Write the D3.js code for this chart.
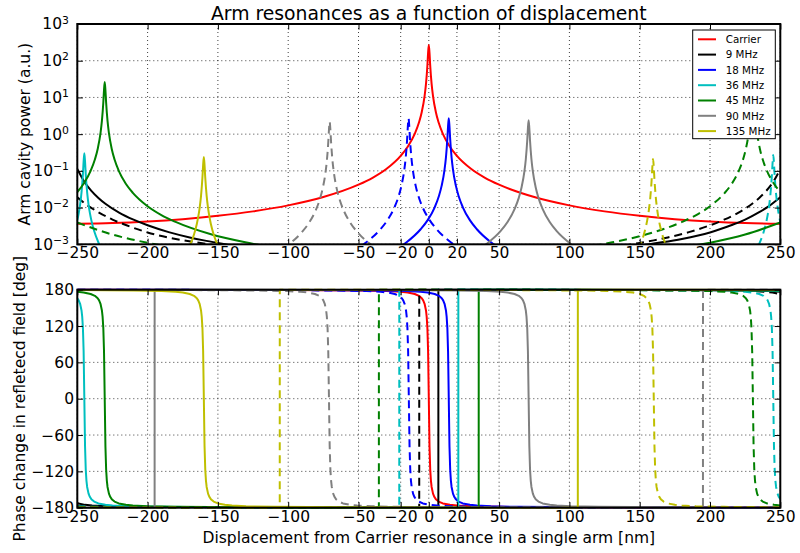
<!DOCTYPE html>
<html><head><meta charset="utf-8">
<script src="https://cdn.jsdelivr.net/npm/d3@7"></script>
<style>
body{margin:0;background:#fff}
svg{display:block}
text{font-family:"DejaVu Sans",sans-serif;fill:#000}
</style>
</head><body>
<svg id="c" width="800" height="553"></svg>
<script>
// ---------------- data ----------------
const xTicks = [-250,-200,-150,-100,-50,-20,0,20,50,100,150,200,250];
const powTicks = [1e-3,1e-2,1e-1,1,10,100,1000];
const powTickExps = ["-3","-2","-1","0","1","2","3"];
const phaseTicks = [-180,-120,-60,0,60,120,180];
const legendLabels = ["Carrier","9 MHz","18 MHz","36 MHz","45 MHz","90 MHz","135 MHz"];

// Arm cavity power (a.u.) – segments of [displacement nm, power]
const powCarrier = [[[-250,0.0036],[-225,0.00378],[-200,0.00417],[-175,0.00484],[-150,0.00596],[-125,0.00788],[-100,0.01148],[-75,0.0194],[-50,0.0421],[-40,0.0647],[-30,0.114],[-20,0.256],[-15,0.455],[-10,1.02],[-7,2.07],[-5,4.03],[-3,10.9],[-2,23.4],[-1,74],[-0.5,163],[0,270],[0.5,163],[1,74],[2,23.4],[3,10.9],[5,4.03],[7,2.07],[10,1.02],[15,0.455],[20,0.256],[30,0.114],[40,0.0647],[50,0.0421],[75,0.0194],[100,0.01148],[125,0.00788],[150,0.00596],[175,0.00484],[200,0.00417],[225,0.00378],[250,0.0036]]];
const pow9Solid = [[[-250,0.113],[-245,0.0505],[-240,0.0285],[-235,0.0183],[-230,0.0127],[-220,0.00719],[-210,0.00468],[-200,0.00329],[-185,0.00215],[-170,0.00154],[-160,0.00128],[-150,0.00109],[-135,0.000875],[-120,0.00073]],
  [[120,0.00065],[140,0.0008],[160,0.00105],[180,0.0014],[200,0.0021],[215,0.0033],[225,0.0047],[235,0.0075],[242,0.011],[250,0.019]]];
const pow9Dashed = [[[-250,0.019],[-242,0.011],[-235,0.0075],[-225,0.0047],[-215,0.0033],[-200,0.0021],[-180,0.0014],[-160,0.00105],[-140,0.0008],[-120,0.00065]],
  [[120,0.00073],[135,0.000875],[150,0.00109],[160,0.00128],[170,0.00154],[185,0.00215],[200,0.00329],[210,0.00468],[220,0.00719],[230,0.0127],[235,0.0183],[240,0.0285],[245,0.0505],[250,0.113]]];
const pow18Solid = [[[-35.8,0.00042],[-25.8,0.000647],[-15.8,0.00114],[-5.8,0.00257],[-0.8,0.00455],[4.2,0.0102],[7.2,0.0207],[9.2,0.0403],[11.2,0.1088],[12.2,0.2336],[13.2,0.742],[13.7,1.63],[14.2,2.7],[14.7,1.63],[15.2,0.742],[16.2,0.2336],[17.2,0.1088],[19.2,0.0403],[21.2,0.0207],[24.2,0.0102],[29.2,0.00455],[34.2,0.00257],[44.2,0.00114],[54.2,0.000647],[64.2,0.00042]]];
const pow18Dashed = [[[-64.4,0.00042],[-54.4,0.000647],[-44.4,0.00114],[-34.4,0.00257],[-29.4,0.00455],[-24.4,0.0102],[-21.4,0.0207],[-19.4,0.0403],[-17.4,0.1088],[-16.4,0.2336],[-15.4,0.742],[-14.9,1.63],[-14.4,2.7],[-13.9,1.63],[-13.4,0.742],[-12.4,0.2336],[-11.4,0.1088],[-9.4,0.0403],[-7.4,0.0207],[-4.4,0.0102],[0.6,0.00455],[5.6,0.00257],[15.6,0.00114],[25.6,0.000647],[35.6,0.00042]]];
const pow36Solid = [[[-250,0.00448],[-249,0.00694],[-248,0.0121],[-247,0.026],[-246,0.0824],[-245.5,0.1807],[-245,0.3],[-244.5,0.1807],[-244,0.0824],[-243,0.026],[-242,0.0121],[-241,0.00694],[-240,0.00448],[-238,0.0023],[-235,0.00113],[-230,0.000505]]];
const pow36Dashed = [[[230,0.000455],[235,0.00102],[238,0.00207],[240,0.00403],[241,0.00625],[242,0.0109],[243,0.0234],[244,0.0742],[244.5,0.1626],[245,0.27],[245.5,0.1626],[246,0.0742],[247,0.0234],[248,0.0109],[249,0.00625],[250,0.00403]]];
const pow45Solid = [[[-250,0.0265],[-245.5,0.0446],[-240.5,0.1001],[-237.5,0.203],[-235.5,0.396],[-233.5,1.068],[-232.5,2.29],[-231.5,7.28],[-231,15.95],[-230.5,26.5],[-230,15.95],[-229.5,7.28],[-228.5,2.29],[-227.5,1.068],[-225.5,0.396],[-223.5,0.203],[-220.5,0.1001],[-215.5,0.0446],[-210.5,0.0252],[-200.5,0.01124],[-190.5,0.00635],[-180.5,0.00413],[-155.5,0.0019],[-130.5,0.00113],[-105.5,0.000773],[-80.5,0.000585]],
  [[150,0.000577],[175,0.00076],[200,0.0011],[225,0.00184],[250,0.00391]]];
const pow45Dashed = [[[-250,0.00391],[-225,0.00184],[-200,0.0011],[-175,0.00076],[-150,0.000577]],
  [[80.5,0.000585],[105.5,0.000773],[130.5,0.00113],[155.5,0.0019],[180.5,0.00413],[190.5,0.00635],[200.5,0.01124],[210.5,0.0252],[215.5,0.0446],[220.5,0.1001],[223.5,0.203],[225.5,0.396],[227.5,1.068],[228.5,2.29],[229.5,7.28],[230,15.95],[230.5,26.5],[231,15.95],[231.5,7.28],[232.5,2.29],[233.5,1.068],[235.5,0.396],[237.5,0.203],[240.5,0.1001],[245.5,0.0446],[250,0.0265]]];
const pow90Solid = [[[21,0.000374],[31,0.000575],[41,0.00102],[51,0.00228],[56,0.00404],[61,0.00907],[64,0.0184],[66,0.0358],[68,0.0967],[69,0.2076],[70,0.659],[70.5,1.445],[71,2.4],[71.5,1.445],[72,0.659],[73,0.2076],[74,0.0967],[76,0.0358],[78,0.0184],[81,0.00907],[86,0.00404],[91,0.00228],[101,0.00102],[111,0.000575],[121,0.000374]]];
const pow90Dashed = [[[-120.5,0.000343],[-110.5,0.000527],[-100.5,0.000933],[-90.5,0.00209],[-85.5,0.0037],[-80.5,0.00831],[-77.5,0.0169],[-75.5,0.0328],[-73.5,0.0887],[-72.5,0.190],[-71.5,0.604],[-71,1.324],[-70.5,2.2],[-70,1.324],[-69.5,0.604],[-68.5,0.190],[-67.5,0.0887],[-65.5,0.0328],[-63.5,0.0169],[-60.5,0.00831],[-55.5,0.0037],[-50.5,0.00209],[-40.5,0.000933],[-30.5,0.000527],[-20.5,0.000343]]];
const pow135Solid = [[[-175,0.000404],[-170,0.000907],[-167,0.00184],[-165,0.00358],[-164,0.00556],[-163,0.00967],[-162,0.02076],[-161,0.0659],[-160.5,0.1446],[-160,0.24],[-159.5,0.1446],[-159,0.0659],[-158,0.02076],[-157,0.00967],[-156,0.00556],[-155,0.00358],[-153,0.00184],[-150,0.000907],[-145,0.000404]]];
const pow135Dashed = [[[144.5,0.000354],[149.5,0.000793],[152.5,0.00161],[154.5,0.00314],[155.5,0.00486],[156.5,0.00846],[157.5,0.01817],[158.5,0.0577],[159,0.1265],[159.5,0.21],[160,0.1265],[160.5,0.0577],[161.5,0.01817],[162.5,0.00846],[163.5,0.00486],[164.5,0.00314],[166.5,0.00161],[169.5,0.000793],[174.5,0.000354]]];

// Phase change in reflected field (deg) – [displacement nm, phase]
const phCarrier = [[-250,179.9],[-150,179.7],[-100,179.4],[-50,178.6],[-30,177.7],[-20,176.5],[-15,175.3],[-10,172.9],[-7,169.9],[-5,165.9],[-4,162.4],[-3,156.7],[-2,145.7],[-1.5,135.2],[-1,116.6],[-0.5,78],[0,0],[0.5,-78],[1,-116.6],[1.5,-135.2],[2,-145.7],[3,-156.7],[4,-162.4],[5,-165.9],[7,-169.9],[10,-172.9],[15,-175.3],[20,-176.5],[30,-177.7],[50,-178.6],[100,-179.4],[150,-179.7],[250,-179.9]];
const ph9Solid = [[-250,-172.6],[-244.5,-175.3],[-239.5,-176.5],[-229.5,-177.7],[-209.5,-178.6],[-159.5,-179.4],[-109.5,-179.7],[-59.5,-179.9],[6.79,-180],[6.81,180],[56.5,179.9],[122.5,179.7],[172.5,179.4],[222.5,178.6],[242.5,177.7],[250,176.8]];
const ph9Dashed = [[-250,-176.8],[-242.5,-177.7],[-222.5,-178.6],[-172.5,-179.4],[-122.5,-179.7],[-56.5,-179.9],[-6.81,-180],[-6.79,180],[59.5,179.9],[109.5,179.7],[159.5,179.4],[209.5,178.6],[229.5,177.7],[239.5,176.5],[244.5,175.3],[250,172.6]];
const ph18Solid = [[-250,180],[-185.8,179.9],[-135.8,179.7],[-85.8,179.4],[-35.8,178.6],[-15.8,177.7],[-5.8,176.5],[-0.8,175.3],[4.2,172.9],[7.2,169.9],[9.2,165.9],[10.2,162.4],[11.2,156.7],[12.2,145.7],[12.7,135.2],[13.2,116.6],[13.7,78],[14.2,0],[14.7,-78],[15.2,-116.6],[15.7,-135.2],[16.2,-145.7],[17.2,-156.7],[18.2,-162.4],[19.2,-165.9],[21.2,-169.9],[24.2,-172.9],[29.2,-175.3],[34.2,-176.5],[44.2,-177.7],[64.2,-178.6],[114.2,-179.4],[164.2,-179.7],[214.2,-179.9],[250,-180]];
const ph18Dashed = [[-250,180],[-214.2,179.9],[-164.2,179.7],[-114.2,179.4],[-64.2,178.6],[-44.2,177.7],[-34.2,176.5],[-29.2,175.3],[-24.2,172.9],[-21.2,169.9],[-19.2,165.9],[-18.2,162.4],[-17.2,156.7],[-16.2,145.7],[-15.7,135.2],[-15.2,116.6],[-14.7,78],[-14.2,0],[-13.7,-78],[-13.2,-116.6],[-12.7,-135.2],[-12.2,-145.7],[-11.2,-156.7],[-10.2,-162.4],[-9.2,-165.9],[-7.2,-169.9],[-4.2,-172.9],[0.8,-175.3],[5.8,-176.5],[15.8,-177.7],[35.8,-178.6],[85.8,-179.4],[135.8,-179.7],[185.8,-179.9],[250,-180]];
const ph36Solid = [[-250,165.9],[-249,162.4],[-248,156.7],[-247,145.7],[-246.5,135.2],[-246,116.6],[-245.5,78],[-245,0],[-244.5,-78],[-244,-116.6],[-243.5,-135.2],[-243,-145.7],[-242,-156.7],[-241,-162.4],[-240,-165.9],[-238,-169.9],[-235,-172.9],[-230,-175.3],[-225,-176.5],[-215,-177.7],[-195,-178.6],[-145,-179.4],[-95,-179.7],[-45,-179.9],[20.99,-180],[21.01,180],[86,179.9],[136,179.7],[186,179.4],[236,178.6],[250,177.7]];
const ph36Dashed = [[-250,-177.7],[-236,-178.6],[-186,-179.4],[-136,-179.7],[-86,-179.9],[-21.01,-180],[-20.99,180],[45,179.9],[95,179.7],[145,179.4],[195,178.6],[215,177.7],[225,176.5],[230,175.3],[235,172.9],[238,169.9],[240,165.9],[241,162.4],[242,156.7],[243,145.7],[243.5,135.2],[244,116.6],[244.5,78],[245,0],[245.5,-78],[246,-116.6],[246.5,-135.2],[247,-145.7],[248,-156.7],[249,-162.4],[250,-165.9]];
const ph45Solid = [[-250,176.5],[-245.5,175.3],[-240.5,172.9],[-237.5,169.9],[-235.5,165.9],[-234.5,162.4],[-233.5,156.7],[-232.5,145.7],[-232,135.2],[-231.5,116.6],[-231,78],[-230.5,0],[-230,-78],[-229.5,-116.6],[-229,-135.2],[-228.5,-145.7],[-227.5,-156.7],[-226.5,-162.4],[-225.5,-165.9],[-223.5,-169.9],[-220.5,-172.9],[-215.5,-175.3],[-210.5,-176.5],[-200.5,-177.7],[-180.5,-178.6],[-130.5,-179.4],[-80.5,-179.7],[-30.5,-179.9],[35.49,-180],[35.51,180],[101.5,179.9],[151.5,179.7],[201.5,179.4],[250,178.7]];
const ph45Dashed = [[-250,-178.7],[-201.5,-179.4],[-151.5,-179.7],[-101.5,-179.9],[-35.51,-180],[-35.49,180],[30.5,179.9],[80.5,179.7],[130.5,179.4],[180.5,178.6],[200.5,177.7],[210.5,176.5],[215.5,175.3],[220.5,172.9],[223.5,169.9],[225.5,165.9],[226.5,162.4],[227.5,156.7],[228.5,145.7],[229,135.2],[229.5,116.6],[230,78],[230.5,0],[231,-78],[231.5,-116.6],[232,-135.2],[232.5,-145.7],[233.5,-156.7],[234.5,-162.4],[235.5,-165.9],[237.5,-169.9],[240.5,-172.9],[245.5,-175.3],[250,-176.5]];
const ph90Solid = [[-250,-179.9],[-195.01,-180],[-194.99,180],[-129,179.9],[-79,179.7],[-29,179.4],[21,178.6],[41,177.7],[51,176.5],[56,175.3],[61,172.9],[64,169.9],[66,165.9],[67,162.4],[68,156.7],[69,145.7],[69.5,135.2],[70,116.6],[70.5,78],[71,0],[71.5,-78],[72,-116.6],[72.5,-135.2],[73,-145.7],[74,-156.7],[75,-162.4],[76,-165.9],[78,-169.9],[81,-172.9],[86,-175.3],[91,-176.5],[101,-177.7],[121,-178.6],[171,-179.4],[221,-179.7],[250,-179.8]];
const ph90Dashed = [[-250,179.8],[-221,179.7],[-171,179.4],[-121,178.6],[-101,177.7],[-91,176.5],[-86,175.3],[-81,172.9],[-78,169.9],[-76,165.9],[-75,162.4],[-74,156.7],[-73,145.7],[-72.5,135.2],[-72,116.6],[-71.5,78],[-71,0],[-70.5,-78],[-70,-116.6],[-69.5,-135.2],[-69,-145.7],[-68,-156.7],[-67,-162.4],[-66,-165.9],[-64,-169.9],[-61,-172.9],[-56,-175.3],[-51,-176.5],[-41,-177.7],[-21,-178.6],[29,-179.4],[79,-179.7],[129,-179.9],[194.99,-180],[195.01,180],[250,179.9]];
const ph135Solid = [[-250,179.3],[-210,178.6],[-190,177.7],[-180,176.5],[-175,175.3],[-170,172.9],[-167,169.9],[-165,165.9],[-164,162.4],[-163,156.7],[-162,145.7],[-161.5,135.2],[-161,116.6],[-160.5,78],[-160,0],[-159.5,-78],[-159,-116.6],[-158.5,-135.2],[-158,-145.7],[-157,-156.7],[-156,-162.4],[-155,-165.9],[-153,-169.9],[-150,-172.9],[-145,-175.3],[-140,-176.5],[-130,-177.7],[-110,-178.6],[-60,-179.4],[-10,-179.7],[40,-179.9],[105.99,-180],[106.01,180],[172,179.9],[250,179.6]];
const ph135Dashed = [[-250,-179.6],[-172,-179.9],[-106.01,-180],[-105.99,180],[-40,179.9],[10,179.7],[60,179.4],[110,178.6],[130,177.7],[140,176.5],[145,175.3],[150,172.9],[153,169.9],[155,165.9],[156,162.4],[157,156.7],[158,145.7],[158.5,135.2],[159,116.6],[159.5,78],[160,0],[160.5,-78],[161,-116.6],[161.5,-135.2],[162,-145.7],[163,-156.7],[164,-162.4],[165,-165.9],[167,-169.9],[170,-172.9],[175,-175.3],[180,-176.5],[190,-177.7],[210,-178.6],[250,-179.3]];

// ---------------- styles ----------------
const seriesColors = ["#ff0000","#000000","#0000ff","#00bfbf","#008000","#808080","#bfbf00"];
const series = [
  {c:0, dash:false, pow:powCarrier,  ph:phCarrier},
  {c:1, dash:false, pow:pow9Solid,   ph:ph9Solid},
  {c:1, dash:true,  pow:pow9Dashed,  ph:ph9Dashed},
  {c:2, dash:false, pow:pow18Solid,  ph:ph18Solid},
  {c:2, dash:true,  pow:pow18Dashed, ph:ph18Dashed},
  {c:3, dash:false, pow:pow36Solid,  ph:ph36Solid},
  {c:3, dash:true,  pow:pow36Dashed, ph:ph36Dashed},
  {c:4, dash:false, pow:pow45Solid,  ph:ph45Solid},
  {c:4, dash:true,  pow:pow45Dashed, ph:ph45Dashed},
  {c:5, dash:false, pow:pow90Solid,  ph:ph90Solid},
  {c:5, dash:true,  pow:pow90Dashed, ph:ph90Dashed},
  {c:6, dash:false, pow:pow135Solid, ph:ph135Solid},
  {c:6, dash:true,  pow:pow135Dashed,ph:ph135Dashed}
];

const L = 77.3, R = 780.3;
const T1 = 24, B1 = 244.3, T2 = 289.7, B2 = 507.7;
const FS = 15.5;

const svg = d3.select("#c");
const x = d3.scaleLinear().domain([-250,250]).range([L,R]);
const yP = d3.scaleLog().domain([1e-3,1e3]).range([B1,T1]);
const yH = d3.scaleLinear().domain([-180,180]).range([B2,T2]);

const defs = svg.append("defs");
defs.append("clipPath").attr("id","clip1").append("rect").attr("x",L).attr("y",T1).attr("width",R-L).attr("height",B1-T1);
defs.append("clipPath").attr("id","clip2").append("rect").attr("x",L).attr("y",T2-2).attr("width",R-L).attr("height",B2-T2+4);

function grid(g, yscale, yticks, top, bottom){
  g.selectAll(".gx").data(xTicks).join("line")
    .attr("x1",d=>x(d)).attr("x2",d=>x(d)).attr("y1",top).attr("y2",bottom);
  g.selectAll(".gy").data(yticks).join("line").attr("class","gy")
    .attr("x1",L).attr("x2",R).attr("y1",d=>yscale(d)).attr("y2",d=>yscale(d));
  g.selectAll("line").attr("stroke","#000").attr("stroke-width",1).attr("stroke-dasharray","1,3").attr("opacity",0.75);
}
grid(svg.append("g"), yP, powTicks, T1, B1);
grid(svg.append("g"), yH, phaseTicks, T2, B2);

// curves
const linePow = d3.line().x(d=>x(d[0])).y(d=>yP(d[1])).curve(d3.curveMonotoneX);
const linePh = d3.line().x(d=>x(d[0])).y(d=>yH(d[1]));
const g1 = svg.append("g").attr("clip-path","url(#clip1)");
const g2 = svg.append("g").attr("clip-path","url(#clip2)");
series.forEach(s=>{
  s.pow.forEach(seg=>{
    g1.append("path").attr("d",linePow(seg)).attr("fill","none")
      .attr("stroke",seriesColors[s.c]).attr("stroke-width",2)
      .attr("stroke-dasharray",s.dash?"8,5":null);
  });
  g2.append("path").attr("d",linePh(s.ph)).attr("fill","none")
    .attr("stroke",seriesColors[s.c]).attr("stroke-width",2)
    .attr("stroke-dasharray",s.dash?"8,5":null).attr("stroke-linejoin","round");
});

// axes
function styleAxis(g){
  g.select(".domain").remove();
  g.selectAll(".tick line").attr("stroke","#000").attr("stroke-width",1);
  g.selectAll(".tick text").attr("font-size",FS).attr("font-family","DejaVu Sans");
}
[[T1,B1,yP],[T2,B2,yH]].forEach(([top,bot,ys],i)=>{
  svg.append("g").attr("transform",`translate(0,${bot})`)
    .call(d3.axisBottom(x).tickValues(xTicks).tickSizeInner(-5.6).tickSizeOuter(0).tickPadding(3))
    .call(styleAxis);
  svg.append("g").attr("transform",`translate(0,${top})`)
    .call(d3.axisTop(x).tickValues(xTicks).tickSizeInner(-5.6).tickSizeOuter(0).tickFormat(""))
    .call(styleAxis);
  if(i===0){
    const ax = svg.append("g").attr("transform",`translate(${L},0)`)
      .call(d3.axisLeft(yP).tickValues(powTicks).tickSizeInner(-5.6).tickSizeOuter(0).tickPadding(8.3))
      .call(styleAxis);
    ax.selectAll(".tick text").each(function(d,j){
      const t = d3.select(this); t.text("");
      t.append("tspan").text("10");
      t.append("tspan").attr("dy","-0.55em").attr("font-size",FS*0.7).text(powTickExps[j].replace("-","\u2212"));
    });
    svg.append("g").attr("transform",`translate(${R},0)`)
      .call(d3.axisRight(yP).tickValues(powTicks).tickSizeInner(-5.6).tickSizeOuter(0).tickFormat(""))
      .call(styleAxis);
  } else {
    svg.append("g").attr("transform",`translate(${L},0)`)
      .call(d3.axisLeft(yH).tickValues(phaseTicks).tickSizeInner(-5.6).tickSizeOuter(0).tickPadding(3.3))
      .call(styleAxis);
    svg.append("g").attr("transform",`translate(${R},0)`)
      .call(d3.axisRight(yH).tickValues(phaseTicks).tickSizeInner(-5.6).tickSizeOuter(0).tickFormat(""))
      .call(styleAxis);
  }
  svg.append("rect").attr("x",L).attr("y",top).attr("width",R-L).attr("height",bot-top)
    .attr("fill","none").attr("stroke","#000").attr("stroke-width",2);
});

// titles & labels
svg.append("text").attr("x",(L+R)/2).attr("y",20.4).attr("text-anchor","middle")
  .attr("font-size",18.8).text("Arm resonances as a function of displacement");
svg.append("text").attr("x",(L+R)/2).attr("y",543).attr("text-anchor","middle")
  .attr("font-size",FS).text("Displacement from Carrier resonance in a single arm [nm]");
svg.append("text").attr("transform",`translate(30,${(T1+B1)/2}) rotate(-90)`).attr("text-anchor","middle")
  .attr("font-size",FS).text("Arm cavity power (a.u.)");
svg.append("text").attr("transform",`translate(25,${(T2+B2)/2}) rotate(-90)`).attr("text-anchor","middle")
  .attr("font-size",FS).text("Phase change in refletecd field [deg]");

// legend
const lg = svg.append("g");
lg.append("rect").attr("x",692.7).attr("y",30).attr("width",82.6).attr("height",108.7)
  .attr("fill","#fff").attr("stroke","#000").attr("stroke-width",1);
legendLabels.forEach((lab,i)=>{
  const yy = 39.3 + i*15.3;
  lg.append("line").attr("x1",698).attr("x2",716).attr("y1",yy).attr("y2",yy)
    .attr("stroke",seriesColors[i]).attr("stroke-width",2);
  lg.append("text").attr("x",725.7).attr("y",yy+3.8).attr("font-size",10.3).text(lab);
});
</script>
</body></html>
